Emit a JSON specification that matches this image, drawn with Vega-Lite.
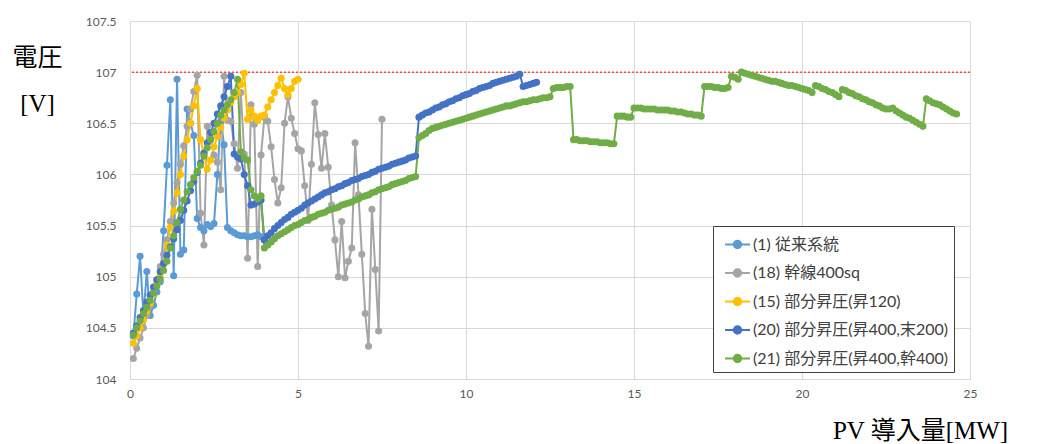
{
"$schema": "https://vega.github.io/schema/vega-lite/v6.json",
"width": 840, "height": 358,
"autosize": {"type": "none"},
"padding": {"left": 130, "top": 21, "right": 68, "bottom": 65},
"background": "white",
"config": {"font": "Lato, Noto Sans CJK JP", "view": {"stroke": null}},
"datasets": {
"main": [
{"s":"(1) 従来系統","x":0.1,"y":104.42},{"s":"(1) 従来系統","x":0.2,"y":104.83},{"s":"(1) 従来系統","x":0.3,"y":105.2},{"s":"(1) 従来系統","x":0.4,"y":104.62},{"s":"(1) 従来系統","x":0.5,"y":105.05},{"s":"(1) 従来系統","x":0.6,"y":104.62},{"s":"(1) 従来系統","x":0.7,"y":104.72},{"s":"(1) 従来系統","x":0.8,"y":104.85},{"s":"(1) 従来系統","x":0.9,"y":104.95},{"s":"(1) 従来系統","x":1.0,"y":105.45},
{"s":"(1) 従来系統","x":1.1,"y":106.09},{"s":"(1) 従来系統","x":1.2,"y":106.73},{"s":"(1) 従来系統","x":1.3,"y":105.01},{"s":"(1) 従来系統","x":1.4,"y":106.93},{"s":"(1) 従来系統","x":1.5,"y":105.22},{"s":"(1) 従来系統","x":1.6,"y":105.26},{"s":"(1) 従来系統","x":1.7,"y":106.64},{"s":"(1) 従来系統","x":1.8,"y":106.5},{"s":"(1) 従来系統","x":1.9,"y":106.38},{"s":"(1) 従来系統","x":2.0,"y":105.57},
{"s":"(1) 従来系統","x":2.1,"y":105.48},{"s":"(1) 従来系統","x":2.2,"y":105.45},{"s":"(1) 従来系統","x":2.3,"y":105.51},{"s":"(1) 従来系統","x":2.4,"y":105.49},{"s":"(1) 従来系統","x":2.5,"y":105.52},{"s":"(1) 従来系統","x":2.6,"y":106.0},{"s":"(1) 従来系統","x":2.7,"y":106.52},{"s":"(1) 従来系統","x":2.8,"y":106.29},{"s":"(1) 従来系統","x":2.9,"y":105.48},{"s":"(1) 従来系統","x":3.0,"y":105.45},
{"s":"(1) 従来系統","x":3.1,"y":105.43},{"s":"(1) 従来系統","x":3.2,"y":105.41},{"s":"(1) 従来系統","x":3.3,"y":105.4},{"s":"(1) 従来系統","x":3.4,"y":105.4},{"s":"(1) 従来系統","x":3.5,"y":105.39},{"s":"(1) 従来系統","x":3.6,"y":105.39},{"s":"(1) 従来系統","x":3.7,"y":105.4},{"s":"(1) 従来系統","x":3.8,"y":105.41},{"s":"(1) 従来系統","x":3.9,"y":105.39},{"s":"(1) 従来系統","x":4.0,"y":105.36},

{"s":"(18) 幹線400sq","x":0.1,"y":104.2},{"s":"(18) 幹線400sq","x":0.2,"y":104.3},{"s":"(18) 幹線400sq","x":0.3,"y":104.4},{"s":"(18) 幹線400sq","x":0.4,"y":104.5},{"s":"(18) 幹線400sq","x":0.5,"y":104.62},{"s":"(18) 幹線400sq","x":0.6,"y":104.72},{"s":"(18) 幹線400sq","x":0.7,"y":104.85},{"s":"(18) 幹線400sq","x":0.8,"y":104.97},{"s":"(18) 幹線400sq","x":0.9,"y":105.1},{"s":"(18) 幹線400sq","x":1.0,"y":105.22},
{"s":"(18) 幹線400sq","x":1.1,"y":105.36},{"s":"(18) 幹線400sq","x":1.2,"y":105.54},{"s":"(18) 幹線400sq","x":1.3,"y":105.72},{"s":"(18) 幹線400sq","x":1.4,"y":105.92},{"s":"(18) 幹線400sq","x":1.5,"y":106.1},{"s":"(18) 幹線400sq","x":1.6,"y":106.28},{"s":"(18) 幹線400sq","x":1.7,"y":106.47},{"s":"(18) 幹線400sq","x":1.8,"y":106.64},{"s":"(18) 幹線400sq","x":1.9,"y":106.81},{"s":"(18) 幹線400sq","x":2.0,"y":106.97},
{"s":"(18) 幹線400sq","x":2.1,"y":105.62},{"s":"(18) 幹線400sq","x":2.2,"y":105.31},{"s":"(18) 幹線400sq","x":2.3,"y":106.47},{"s":"(18) 幹線400sq","x":2.4,"y":106.35},{"s":"(18) 幹線400sq","x":2.5,"y":106.19},{"s":"(18) 幹線400sq","x":2.6,"y":106.12},{"s":"(18) 幹線400sq","x":2.7,"y":105.85},{"s":"(18) 幹線400sq","x":2.8,"y":106.96},{"s":"(18) 幹線400sq","x":2.9,"y":106.53},{"s":"(18) 幹線400sq","x":3.0,"y":106.52},
{"s":"(18) 幹線400sq","x":3.1,"y":106.3},{"s":"(18) 幹線400sq","x":3.2,"y":106.06},{"s":"(18) 幹線400sq","x":3.3,"y":106.8},{"s":"(18) 幹線400sq","x":3.4,"y":106.2},{"s":"(18) 幹線400sq","x":3.5,"y":105.18},{"s":"(18) 幹線400sq","x":3.6,"y":106.68},{"s":"(18) 幹線400sq","x":3.7,"y":106.49},{"s":"(18) 幹線400sq","x":3.8,"y":105.1},{"s":"(18) 幹線400sq","x":3.9,"y":106.19},{"s":"(18) 幹線400sq","x":4.0,"y":106.56},
{"s":"(18) 幹線400sq","x":4.1,"y":106.52},{"s":"(18) 幹線400sq","x":4.2,"y":106.27},{"s":"(18) 幹線400sq","x":4.3,"y":105.95},{"s":"(18) 幹線400sq","x":4.4,"y":105.72},{"s":"(18) 幹線400sq","x":4.5,"y":105.87},{"s":"(18) 幹線400sq","x":4.6,"y":106.5},{"s":"(18) 幹線400sq","x":4.7,"y":106.76},{"s":"(18) 幹線400sq","x":4.8,"y":106.55},{"s":"(18) 幹線400sq","x":4.9,"y":106.4},{"s":"(18) 幹線400sq","x":5.0,"y":106.25},
{"s":"(18) 幹線400sq","x":5.1,"y":106.23},{"s":"(18) 幹線400sq","x":5.2,"y":105.89},{"s":"(18) 幹線400sq","x":5.3,"y":105.55},{"s":"(18) 幹線400sq","x":5.4,"y":106.1},{"s":"(18) 幹線400sq","x":5.5,"y":106.7},{"s":"(18) 幹線400sq","x":5.6,"y":106.39},{"s":"(18) 幹線400sq","x":5.7,"y":106.06},{"s":"(18) 幹線400sq","x":5.8,"y":106.4},{"s":"(18) 幹線400sq","x":5.9,"y":106.07},{"s":"(18) 幹線400sq","x":6.0,"y":105.7},
{"s":"(18) 幹線400sq","x":6.1,"y":105.36},{"s":"(18) 幹線400sq","x":6.2,"y":105.0},{"s":"(18) 幹線400sq","x":6.3,"y":105.54},{"s":"(18) 幹線400sq","x":6.4,"y":104.99},{"s":"(18) 幹線400sq","x":6.5,"y":105.15},{"s":"(18) 幹線400sq","x":6.6,"y":105.28},{"s":"(18) 幹線400sq","x":6.7,"y":106.31},{"s":"(18) 幹線400sq","x":6.8,"y":105.8},{"s":"(18) 幹線400sq","x":6.9,"y":105.22},{"s":"(18) 幹線400sq","x":7.0,"y":104.64},
{"s":"(18) 幹線400sq","x":7.1,"y":104.32},{"s":"(18) 幹線400sq","x":7.2,"y":105.66},{"s":"(18) 幹線400sq","x":7.3,"y":105.07},{"s":"(18) 幹線400sq","x":7.4,"y":104.47},{"s":"(18) 幹線400sq","x":7.5,"y":106.54},

{"s":"(15) 部分昇圧(昇120)","x":0.1,"y":104.35},{"s":"(15) 部分昇圧(昇120)","x":0.2,"y":104.42},{"s":"(15) 部分昇圧(昇120)","x":0.3,"y":104.5},{"s":"(15) 部分昇圧(昇120)","x":0.4,"y":104.58},{"s":"(15) 部分昇圧(昇120)","x":0.5,"y":104.66},{"s":"(15) 部分昇圧(昇120)","x":0.6,"y":104.74},{"s":"(15) 部分昇圧(昇120)","x":0.7,"y":104.83},{"s":"(15) 部分昇圧(昇120)","x":0.8,"y":104.93},{"s":"(15) 部分昇圧(昇120)","x":0.9,"y":105.03},{"s":"(15) 部分昇圧(昇120)","x":1.0,"y":105.13},
{"s":"(15) 部分昇圧(昇120)","x":1.1,"y":105.31},{"s":"(15) 部分昇圧(昇120)","x":1.2,"y":105.48},{"s":"(15) 部分昇圧(昇120)","x":1.3,"y":105.64},{"s":"(15) 部分昇圧(昇120)","x":1.4,"y":105.82},{"s":"(15) 部分昇圧(昇120)","x":1.5,"y":106.0},{"s":"(15) 部分昇圧(昇120)","x":1.6,"y":106.18},{"s":"(15) 部分昇圧(昇120)","x":1.7,"y":106.34},{"s":"(15) 部分昇圧(昇120)","x":1.8,"y":106.5},{"s":"(15) 部分昇圧(昇120)","x":1.9,"y":106.67},{"s":"(15) 部分昇圧(昇120)","x":2.0,"y":106.84},
{"s":"(15) 部分昇圧(昇120)","x":2.1,"y":106.34},{"s":"(15) 部分昇圧(昇120)","x":2.2,"y":106.2},{"s":"(15) 部分昇圧(昇120)","x":2.3,"y":106.05},{"s":"(15) 部分昇圧(昇120)","x":2.4,"y":106.14},{"s":"(15) 部分昇圧(昇120)","x":2.5,"y":106.27},{"s":"(15) 部分昇圧(昇120)","x":2.6,"y":106.37},{"s":"(15) 部分昇圧(昇120)","x":2.7,"y":106.46},{"s":"(15) 部分昇圧(昇120)","x":2.8,"y":106.55},{"s":"(15) 部分昇圧(昇120)","x":2.9,"y":106.63},{"s":"(15) 部分昇圧(昇120)","x":3.0,"y":106.7},
{"s":"(15) 部分昇圧(昇120)","x":3.1,"y":106.76},{"s":"(15) 部分昇圧(昇120)","x":3.2,"y":106.8},{"s":"(15) 部分昇圧(昇120)","x":3.3,"y":106.88},{"s":"(15) 部分昇圧(昇120)","x":3.4,"y":106.99},{"s":"(15) 部分昇圧(昇120)","x":3.5,"y":106.54},{"s":"(15) 部分昇圧(昇120)","x":3.6,"y":106.63},{"s":"(15) 部分昇圧(昇120)","x":3.7,"y":106.57},{"s":"(15) 部分昇圧(昇120)","x":3.8,"y":106.53},{"s":"(15) 部分昇圧(昇120)","x":3.9,"y":106.57},{"s":"(15) 部分昇圧(昇120)","x":4.0,"y":106.58},
{"s":"(15) 部分昇圧(昇120)","x":4.1,"y":106.66},{"s":"(15) 部分昇圧(昇120)","x":4.2,"y":106.73},{"s":"(15) 部分昇圧(昇120)","x":4.3,"y":106.8},{"s":"(15) 部分昇圧(昇120)","x":4.4,"y":106.87},{"s":"(15) 部分昇圧(昇120)","x":4.5,"y":106.94},{"s":"(15) 部分昇圧(昇120)","x":4.6,"y":106.84},{"s":"(15) 部分昇圧(昇120)","x":4.7,"y":106.78},{"s":"(15) 部分昇圧(昇120)","x":4.8,"y":106.84},{"s":"(15) 部分昇圧(昇120)","x":4.9,"y":106.91},{"s":"(15) 部分昇圧(昇120)","x":5.0,"y":106.93},

{"s":"(20) 部分昇圧(昇400,末200)","x":0.1,"y":104.45},{"s":"(20) 部分昇圧(昇400,末200)","x":0.2,"y":104.52},{"s":"(20) 部分昇圧(昇400,末200)","x":0.3,"y":104.6},{"s":"(20) 部分昇圧(昇400,末200)","x":0.4,"y":104.67},{"s":"(20) 部分昇圧(昇400,末200)","x":0.5,"y":104.75},{"s":"(20) 部分昇圧(昇400,末200)","x":0.6,"y":104.82},{"s":"(20) 部分昇圧(昇400,末200)","x":0.7,"y":104.9},{"s":"(20) 部分昇圧(昇400,末200)","x":0.8,"y":104.97},{"s":"(20) 部分昇圧(昇400,末200)","x":0.9,"y":105.05},{"s":"(20) 部分昇圧(昇400,末200)","x":1.0,"y":105.13},
{"s":"(20) 部分昇圧(昇400,末200)","x":1.1,"y":105.21},{"s":"(20) 部分昇圧(昇400,末200)","x":1.2,"y":105.29},{"s":"(20) 部分昇圧(昇400,末200)","x":1.3,"y":105.37},{"s":"(20) 部分昇圧(昇400,末200)","x":1.4,"y":105.46},{"s":"(20) 部分昇圧(昇400,末200)","x":1.5,"y":105.55},{"s":"(20) 部分昇圧(昇400,末200)","x":1.6,"y":105.65},{"s":"(20) 部分昇圧(昇400,末200)","x":1.7,"y":105.74},{"s":"(20) 部分昇圧(昇400,末200)","x":1.8,"y":105.84},{"s":"(20) 部分昇圧(昇400,末200)","x":1.9,"y":105.93},{"s":"(20) 部分昇圧(昇400,末200)","x":2.0,"y":106.02},
{"s":"(20) 部分昇圧(昇400,末200)","x":2.1,"y":106.11},{"s":"(20) 部分昇圧(昇400,末200)","x":2.2,"y":106.21},{"s":"(20) 部分昇圧(昇400,末200)","x":2.3,"y":106.31},{"s":"(20) 部分昇圧(昇400,末200)","x":2.4,"y":106.41},{"s":"(20) 部分昇圧(昇400,末200)","x":2.5,"y":106.5},{"s":"(20) 部分昇圧(昇400,末200)","x":2.6,"y":106.59},{"s":"(20) 部分昇圧(昇400,末200)","x":2.7,"y":106.67},{"s":"(20) 部分昇圧(昇400,末200)","x":2.8,"y":106.76},{"s":"(20) 部分昇圧(昇400,末200)","x":2.9,"y":106.86},{"s":"(20) 部分昇圧(昇400,末200)","x":3.0,"y":106.96},
{"s":"(20) 部分昇圧(昇400,末200)","x":3.1,"y":106.2},{"s":"(20) 部分昇圧(昇400,末200)","x":3.2,"y":106.17},{"s":"(20) 部分昇圧(昇400,末200)","x":3.3,"y":106.15},{"s":"(20) 部分昇圧(昇400,末200)","x":3.4,"y":106.0},{"s":"(20) 部分昇圧(昇400,末200)","x":3.5,"y":105.89},{"s":"(20) 部分昇圧(昇400,末200)","x":3.6,"y":105.7},{"s":"(20) 部分昇圧(昇400,末200)","x":3.7,"y":105.71},{"s":"(20) 部分昇圧(昇400,末200)","x":3.8,"y":105.73},{"s":"(20) 部分昇圧(昇400,末200)","x":3.9,"y":105.75},{"s":"(20) 部分昇圧(昇400,末200)","x":4.0,"y":105.36},
{"s":"(20) 部分昇圧(昇400,末200)","x":4.1,"y":105.4},{"s":"(20) 部分昇圧(昇400,末200)","x":4.2,"y":105.43},{"s":"(20) 部分昇圧(昇400,末200)","x":4.3,"y":105.47},{"s":"(20) 部分昇圧(昇400,末200)","x":4.4,"y":105.5},{"s":"(20) 部分昇圧(昇400,末200)","x":4.5,"y":105.53},{"s":"(20) 部分昇圧(昇400,末200)","x":4.6,"y":105.56},{"s":"(20) 部分昇圧(昇400,末200)","x":4.7,"y":105.58},{"s":"(20) 部分昇圧(昇400,末200)","x":4.8,"y":105.61},{"s":"(20) 部分昇圧(昇400,末200)","x":4.9,"y":105.63},{"s":"(20) 部分昇圧(昇400,末200)","x":5.0,"y":105.65},
{"s":"(20) 部分昇圧(昇400,末200)","x":5.1,"y":105.67},{"s":"(20) 部分昇圧(昇400,末200)","x":5.2,"y":105.7},{"s":"(20) 部分昇圧(昇400,末200)","x":5.3,"y":105.72},{"s":"(20) 部分昇圧(昇400,末200)","x":5.4,"y":105.74},{"s":"(20) 部分昇圧(昇400,末200)","x":5.5,"y":105.76},{"s":"(20) 部分昇圧(昇400,末200)","x":5.6,"y":105.78},{"s":"(20) 部分昇圧(昇400,末200)","x":5.7,"y":105.8},{"s":"(20) 部分昇圧(昇400,末200)","x":5.8,"y":105.82},{"s":"(20) 部分昇圧(昇400,末200)","x":5.9,"y":105.83},{"s":"(20) 部分昇圧(昇400,末200)","x":6.0,"y":105.85},
{"s":"(20) 部分昇圧(昇400,末200)","x":6.1,"y":105.86},{"s":"(20) 部分昇圧(昇400,末200)","x":6.2,"y":105.88},{"s":"(20) 部分昇圧(昇400,末200)","x":6.3,"y":105.89},{"s":"(20) 部分昇圧(昇400,末200)","x":6.4,"y":105.91},{"s":"(20) 部分昇圧(昇400,末200)","x":6.5,"y":105.92},{"s":"(20) 部分昇圧(昇400,末200)","x":6.6,"y":105.94},{"s":"(20) 部分昇圧(昇400,末200)","x":6.7,"y":105.95},{"s":"(20) 部分昇圧(昇400,末200)","x":6.8,"y":105.96},{"s":"(20) 部分昇圧(昇400,末200)","x":6.9,"y":105.98},{"s":"(20) 部分昇圧(昇400,末200)","x":7.0,"y":105.99},
{"s":"(20) 部分昇圧(昇400,末200)","x":7.1,"y":106.0},{"s":"(20) 部分昇圧(昇400,末200)","x":7.2,"y":106.02},{"s":"(20) 部分昇圧(昇400,末200)","x":7.3,"y":106.03},{"s":"(20) 部分昇圧(昇400,末200)","x":7.4,"y":106.05},{"s":"(20) 部分昇圧(昇400,末200)","x":7.5,"y":106.06},{"s":"(20) 部分昇圧(昇400,末200)","x":7.6,"y":106.07},{"s":"(20) 部分昇圧(昇400,末200)","x":7.7,"y":106.08},{"s":"(20) 部分昇圧(昇400,末200)","x":7.8,"y":106.1},{"s":"(20) 部分昇圧(昇400,末200)","x":7.9,"y":106.11},{"s":"(20) 部分昇圧(昇400,末200)","x":8.0,"y":106.12},
{"s":"(20) 部分昇圧(昇400,末200)","x":8.1,"y":106.13},{"s":"(20) 部分昇圧(昇400,末200)","x":8.2,"y":106.14},{"s":"(20) 部分昇圧(昇400,末200)","x":8.3,"y":106.16},{"s":"(20) 部分昇圧(昇400,末200)","x":8.4,"y":106.17},{"s":"(20) 部分昇圧(昇400,末200)","x":8.5,"y":106.18},{"s":"(20) 部分昇圧(昇400,末200)","x":8.6,"y":106.56},{"s":"(20) 部分昇圧(昇400,末200)","x":8.7,"y":106.58},{"s":"(20) 部分昇圧(昇400,末200)","x":8.8,"y":106.6},{"s":"(20) 部分昇圧(昇400,末200)","x":8.9,"y":106.61},{"s":"(20) 部分昇圧(昇400,末200)","x":9.0,"y":106.63},
{"s":"(20) 部分昇圧(昇400,末200)","x":9.1,"y":106.65},{"s":"(20) 部分昇圧(昇400,末200)","x":9.2,"y":106.66},{"s":"(20) 部分昇圧(昇400,末200)","x":9.3,"y":106.68},{"s":"(20) 部分昇圧(昇400,末200)","x":9.4,"y":106.69},{"s":"(20) 部分昇圧(昇400,末200)","x":9.5,"y":106.71},{"s":"(20) 部分昇圧(昇400,末200)","x":9.6,"y":106.72},{"s":"(20) 部分昇圧(昇400,末200)","x":9.7,"y":106.74},{"s":"(20) 部分昇圧(昇400,末200)","x":9.8,"y":106.75},{"s":"(20) 部分昇圧(昇400,末200)","x":9.9,"y":106.77},{"s":"(20) 部分昇圧(昇400,末200)","x":10.0,"y":106.78},
{"s":"(20) 部分昇圧(昇400,末200)","x":10.1,"y":106.79},{"s":"(20) 部分昇圧(昇400,末200)","x":10.2,"y":106.81},{"s":"(20) 部分昇圧(昇400,末200)","x":10.3,"y":106.82},{"s":"(20) 部分昇圧(昇400,末200)","x":10.4,"y":106.84},{"s":"(20) 部分昇圧(昇400,末200)","x":10.5,"y":106.85},{"s":"(20) 部分昇圧(昇400,末200)","x":10.6,"y":106.86},{"s":"(20) 部分昇圧(昇400,末200)","x":10.7,"y":106.87},{"s":"(20) 部分昇圧(昇400,末200)","x":10.8,"y":106.89},{"s":"(20) 部分昇圧(昇400,末200)","x":10.9,"y":106.9},{"s":"(20) 部分昇圧(昇400,末200)","x":11.0,"y":106.91},
{"s":"(20) 部分昇圧(昇400,末200)","x":11.1,"y":106.92},{"s":"(20) 部分昇圧(昇400,末200)","x":11.2,"y":106.93},{"s":"(20) 部分昇圧(昇400,末200)","x":11.3,"y":106.94},{"s":"(20) 部分昇圧(昇400,末200)","x":11.4,"y":106.95},{"s":"(20) 部分昇圧(昇400,末200)","x":11.5,"y":106.96},{"s":"(20) 部分昇圧(昇400,末200)","x":11.6,"y":106.98},{"s":"(20) 部分昇圧(昇400,末200)","x":11.7,"y":106.86},{"s":"(20) 部分昇圧(昇400,末200)","x":11.8,"y":106.87},{"s":"(20) 部分昇圧(昇400,末200)","x":11.9,"y":106.88},{"s":"(20) 部分昇圧(昇400,末200)","x":12.0,"y":106.89},
{"s":"(20) 部分昇圧(昇400,末200)","x":12.1,"y":106.9},

{"s":"(21) 部分昇圧(昇400,幹400)","x":0.1,"y":104.43},{"s":"(21) 部分昇圧(昇400,幹400)","x":0.2,"y":104.5},{"s":"(21) 部分昇圧(昇400,幹400)","x":0.3,"y":104.57},{"s":"(21) 部分昇圧(昇400,幹400)","x":0.4,"y":104.64},{"s":"(21) 部分昇圧(昇400,幹400)","x":0.5,"y":104.7},{"s":"(21) 部分昇圧(昇400,幹400)","x":0.6,"y":104.77},{"s":"(21) 部分昇圧(昇400,幹400)","x":0.7,"y":104.84},{"s":"(21) 部分昇圧(昇400,幹400)","x":0.8,"y":104.91},{"s":"(21) 部分昇圧(昇400,幹400)","x":0.9,"y":104.98},{"s":"(21) 部分昇圧(昇400,幹400)","x":1.0,"y":105.06},
{"s":"(21) 部分昇圧(昇400,幹400)","x":1.1,"y":105.15},{"s":"(21) 部分昇圧(昇400,幹400)","x":1.2,"y":105.28},{"s":"(21) 部分昇圧(昇400,幹400)","x":1.3,"y":105.4},{"s":"(21) 部分昇圧(昇400,幹400)","x":1.4,"y":105.53},{"s":"(21) 部分昇圧(昇400,幹400)","x":1.5,"y":105.66},{"s":"(21) 部分昇圧(昇400,幹400)","x":1.6,"y":105.75},{"s":"(21) 部分昇圧(昇400,幹400)","x":1.7,"y":105.83},{"s":"(21) 部分昇圧(昇400,幹400)","x":1.8,"y":105.9},{"s":"(21) 部分昇圧(昇400,幹400)","x":1.9,"y":105.97},{"s":"(21) 部分昇圧(昇400,幹400)","x":2.0,"y":106.03},
{"s":"(21) 部分昇圧(昇400,幹400)","x":2.1,"y":106.09},{"s":"(21) 部分昇圧(昇400,幹400)","x":2.2,"y":106.18},{"s":"(21) 部分昇圧(昇400,幹400)","x":2.3,"y":106.26},{"s":"(21) 部分昇圧(昇400,幹400)","x":2.4,"y":106.34},{"s":"(21) 部分昇圧(昇400,幹400)","x":2.5,"y":106.42},{"s":"(21) 部分昇圧(昇400,幹400)","x":2.6,"y":106.5},{"s":"(21) 部分昇圧(昇400,幹400)","x":2.7,"y":106.58},{"s":"(21) 部分昇圧(昇400,幹400)","x":2.8,"y":106.63},{"s":"(21) 部分昇圧(昇400,幹400)","x":2.9,"y":106.68},{"s":"(21) 部分昇圧(昇400,幹400)","x":3.0,"y":106.73},
{"s":"(21) 部分昇圧(昇400,幹400)","x":3.1,"y":106.8},{"s":"(21) 部分昇圧(昇400,幹400)","x":3.2,"y":106.93},{"s":"(21) 部分昇圧(昇400,幹400)","x":3.3,"y":106.22},{"s":"(21) 部分昇圧(昇400,幹400)","x":3.4,"y":106.16},{"s":"(21) 部分昇圧(昇400,幹400)","x":3.5,"y":106.14},{"s":"(21) 部分昇圧(昇400,幹400)","x":3.6,"y":105.85},{"s":"(21) 部分昇圧(昇400,幹400)","x":3.7,"y":105.79},{"s":"(21) 部分昇圧(昇400,幹400)","x":3.8,"y":105.76},{"s":"(21) 部分昇圧(昇400,幹400)","x":3.9,"y":105.79},{"s":"(21) 部分昇圧(昇400,幹400)","x":4.0,"y":105.28},
{"s":"(21) 部分昇圧(昇400,幹400)","x":4.1,"y":105.31},{"s":"(21) 部分昇圧(昇400,幹400)","x":4.2,"y":105.34},{"s":"(21) 部分昇圧(昇400,幹400)","x":4.3,"y":105.37},{"s":"(21) 部分昇圧(昇400,幹400)","x":4.4,"y":105.4},{"s":"(21) 部分昇圧(昇400,幹400)","x":4.5,"y":105.42},{"s":"(21) 部分昇圧(昇400,幹400)","x":4.6,"y":105.44},{"s":"(21) 部分昇圧(昇400,幹400)","x":4.7,"y":105.46},{"s":"(21) 部分昇圧(昇400,幹400)","x":4.8,"y":105.48},{"s":"(21) 部分昇圧(昇400,幹400)","x":4.9,"y":105.5},{"s":"(21) 部分昇圧(昇400,幹400)","x":5.0,"y":105.51},
{"s":"(21) 部分昇圧(昇400,幹400)","x":5.1,"y":105.53},{"s":"(21) 部分昇圧(昇400,幹400)","x":5.2,"y":105.55},{"s":"(21) 部分昇圧(昇400,幹400)","x":5.3,"y":105.56},{"s":"(21) 部分昇圧(昇400,幹400)","x":5.4,"y":105.58},{"s":"(21) 部分昇圧(昇400,幹400)","x":5.5,"y":105.59},{"s":"(21) 部分昇圧(昇400,幹400)","x":5.6,"y":105.61},{"s":"(21) 部分昇圧(昇400,幹400)","x":5.7,"y":105.62},{"s":"(21) 部分昇圧(昇400,幹400)","x":5.8,"y":105.63},{"s":"(21) 部分昇圧(昇400,幹400)","x":5.9,"y":105.65},{"s":"(21) 部分昇圧(昇400,幹400)","x":6.0,"y":105.66},
{"s":"(21) 部分昇圧(昇400,幹400)","x":6.1,"y":105.67},{"s":"(21) 部分昇圧(昇400,幹400)","x":6.2,"y":105.68},{"s":"(21) 部分昇圧(昇400,幹400)","x":6.3,"y":105.7},{"s":"(21) 部分昇圧(昇400,幹400)","x":6.4,"y":105.71},{"s":"(21) 部分昇圧(昇400,幹400)","x":6.5,"y":105.72},{"s":"(21) 部分昇圧(昇400,幹400)","x":6.6,"y":105.73},{"s":"(21) 部分昇圧(昇400,幹400)","x":6.7,"y":105.75},{"s":"(21) 部分昇圧(昇400,幹400)","x":6.8,"y":105.76},{"s":"(21) 部分昇圧(昇400,幹400)","x":6.9,"y":105.78},{"s":"(21) 部分昇圧(昇400,幹400)","x":7.0,"y":105.79},
{"s":"(21) 部分昇圧(昇400,幹400)","x":7.1,"y":105.8},{"s":"(21) 部分昇圧(昇400,幹400)","x":7.2,"y":105.82},{"s":"(21) 部分昇圧(昇400,幹400)","x":7.3,"y":105.83},{"s":"(21) 部分昇圧(昇400,幹400)","x":7.4,"y":105.85},{"s":"(21) 部分昇圧(昇400,幹400)","x":7.5,"y":105.86},{"s":"(21) 部分昇圧(昇400,幹400)","x":7.6,"y":105.87},{"s":"(21) 部分昇圧(昇400,幹400)","x":7.7,"y":105.88},{"s":"(21) 部分昇圧(昇400,幹400)","x":7.8,"y":105.9},{"s":"(21) 部分昇圧(昇400,幹400)","x":7.9,"y":105.91},{"s":"(21) 部分昇圧(昇400,幹400)","x":8.0,"y":105.92},
{"s":"(21) 部分昇圧(昇400,幹400)","x":8.1,"y":105.93},{"s":"(21) 部分昇圧(昇400,幹400)","x":8.2,"y":105.94},{"s":"(21) 部分昇圧(昇400,幹400)","x":8.3,"y":105.96},{"s":"(21) 部分昇圧(昇400,幹400)","x":8.4,"y":105.97},{"s":"(21) 部分昇圧(昇400,幹400)","x":8.5,"y":105.98},{"s":"(21) 部分昇圧(昇400,幹400)","x":8.6,"y":106.36},{"s":"(21) 部分昇圧(昇400,幹400)","x":8.7,"y":106.38},{"s":"(21) 部分昇圧(昇400,幹400)","x":8.8,"y":106.4},{"s":"(21) 部分昇圧(昇400,幹400)","x":8.9,"y":106.43},{"s":"(21) 部分昇圧(昇400,幹400)","x":9.0,"y":106.45},
{"s":"(21) 部分昇圧(昇400,幹400)","x":9.1,"y":106.46},{"s":"(21) 部分昇圧(昇400,幹400)","x":9.2,"y":106.47},{"s":"(21) 部分昇圧(昇400,幹400)","x":9.3,"y":106.48},{"s":"(21) 部分昇圧(昇400,幹400)","x":9.4,"y":106.49},{"s":"(21) 部分昇圧(昇400,幹400)","x":9.5,"y":106.5},{"s":"(21) 部分昇圧(昇400,幹400)","x":9.6,"y":106.51},{"s":"(21) 部分昇圧(昇400,幹400)","x":9.7,"y":106.52},{"s":"(21) 部分昇圧(昇400,幹400)","x":9.8,"y":106.53},{"s":"(21) 部分昇圧(昇400,幹400)","x":9.9,"y":106.54},{"s":"(21) 部分昇圧(昇400,幹400)","x":10.0,"y":106.55},
{"s":"(21) 部分昇圧(昇400,幹400)","x":10.1,"y":106.56},{"s":"(21) 部分昇圧(昇400,幹400)","x":10.2,"y":106.57},{"s":"(21) 部分昇圧(昇400,幹400)","x":10.3,"y":106.58},{"s":"(21) 部分昇圧(昇400,幹400)","x":10.4,"y":106.59},{"s":"(21) 部分昇圧(昇400,幹400)","x":10.5,"y":106.6},{"s":"(21) 部分昇圧(昇400,幹400)","x":10.6,"y":106.61},{"s":"(21) 部分昇圧(昇400,幹400)","x":10.7,"y":106.62},{"s":"(21) 部分昇圧(昇400,幹400)","x":10.8,"y":106.63},{"s":"(21) 部分昇圧(昇400,幹400)","x":10.9,"y":106.64},{"s":"(21) 部分昇圧(昇400,幹400)","x":11.0,"y":106.65},
{"s":"(21) 部分昇圧(昇400,幹400)","x":11.1,"y":106.66},{"s":"(21) 部分昇圧(昇400,幹400)","x":11.2,"y":106.67},{"s":"(21) 部分昇圧(昇400,幹400)","x":11.3,"y":106.67},{"s":"(21) 部分昇圧(昇400,幹400)","x":11.4,"y":106.68},{"s":"(21) 部分昇圧(昇400,幹400)","x":11.5,"y":106.69},{"s":"(21) 部分昇圧(昇400,幹400)","x":11.6,"y":106.7},{"s":"(21) 部分昇圧(昇400,幹400)","x":11.7,"y":106.71},{"s":"(21) 部分昇圧(昇400,幹400)","x":11.8,"y":106.71},{"s":"(21) 部分昇圧(昇400,幹400)","x":11.9,"y":106.72},{"s":"(21) 部分昇圧(昇400,幹400)","x":12.0,"y":106.73},
{"s":"(21) 部分昇圧(昇400,幹400)","x":12.1,"y":106.73},{"s":"(21) 部分昇圧(昇400,幹400)","x":12.2,"y":106.74},{"s":"(21) 部分昇圧(昇400,幹400)","x":12.3,"y":106.75},{"s":"(21) 部分昇圧(昇400,幹400)","x":12.4,"y":106.75},{"s":"(21) 部分昇圧(昇400,幹400)","x":12.5,"y":106.76},{"s":"(21) 部分昇圧(昇400,幹400)","x":12.6,"y":106.84},{"s":"(21) 部分昇圧(昇400,幹400)","x":12.7,"y":106.85},{"s":"(21) 部分昇圧(昇400,幹400)","x":12.8,"y":106.85},{"s":"(21) 部分昇圧(昇400,幹400)","x":12.9,"y":106.85},{"s":"(21) 部分昇圧(昇400,幹400)","x":13.0,"y":106.86},
{"s":"(21) 部分昇圧(昇400,幹400)","x":13.1,"y":106.86},{"s":"(21) 部分昇圧(昇400,幹400)","x":13.2,"y":106.34},{"s":"(21) 部分昇圧(昇400,幹400)","x":13.3,"y":106.34},{"s":"(21) 部分昇圧(昇400,幹400)","x":13.4,"y":106.33},{"s":"(21) 部分昇圧(昇400,幹400)","x":13.5,"y":106.33},{"s":"(21) 部分昇圧(昇400,幹400)","x":13.6,"y":106.33},{"s":"(21) 部分昇圧(昇400,幹400)","x":13.7,"y":106.32},{"s":"(21) 部分昇圧(昇400,幹400)","x":13.8,"y":106.32},{"s":"(21) 部分昇圧(昇400,幹400)","x":13.9,"y":106.32},{"s":"(21) 部分昇圧(昇400,幹400)","x":14.0,"y":106.31},
{"s":"(21) 部分昇圧(昇400,幹400)","x":14.1,"y":106.31},{"s":"(21) 部分昇圧(昇400,幹400)","x":14.2,"y":106.31},{"s":"(21) 部分昇圧(昇400,幹400)","x":14.3,"y":106.3},{"s":"(21) 部分昇圧(昇400,幹400)","x":14.4,"y":106.3},{"s":"(21) 部分昇圧(昇400,幹400)","x":14.5,"y":106.57},{"s":"(21) 部分昇圧(昇400,幹400)","x":14.6,"y":106.57},{"s":"(21) 部分昇圧(昇400,幹400)","x":14.7,"y":106.57},{"s":"(21) 部分昇圧(昇400,幹400)","x":14.8,"y":106.56},{"s":"(21) 部分昇圧(昇400,幹400)","x":14.9,"y":106.56},{"s":"(21) 部分昇圧(昇400,幹400)","x":15.0,"y":106.65},
{"s":"(21) 部分昇圧(昇400,幹400)","x":15.1,"y":106.65},{"s":"(21) 部分昇圧(昇400,幹400)","x":15.2,"y":106.65},{"s":"(21) 部分昇圧(昇400,幹400)","x":15.3,"y":106.64},{"s":"(21) 部分昇圧(昇400,幹400)","x":15.4,"y":106.64},{"s":"(21) 部分昇圧(昇400,幹400)","x":15.5,"y":106.64},{"s":"(21) 部分昇圧(昇400,幹400)","x":15.6,"y":106.64},{"s":"(21) 部分昇圧(昇400,幹400)","x":15.7,"y":106.63},{"s":"(21) 部分昇圧(昇400,幹400)","x":15.8,"y":106.63},{"s":"(21) 部分昇圧(昇400,幹400)","x":15.9,"y":106.63},{"s":"(21) 部分昇圧(昇400,幹400)","x":16.0,"y":106.63},
{"s":"(21) 部分昇圧(昇400,幹400)","x":16.1,"y":106.62},{"s":"(21) 部分昇圧(昇400,幹400)","x":16.2,"y":106.62},{"s":"(21) 部分昇圧(昇400,幹400)","x":16.3,"y":106.61},{"s":"(21) 部分昇圧(昇400,幹400)","x":16.4,"y":106.61},{"s":"(21) 部分昇圧(昇400,幹400)","x":16.5,"y":106.6},{"s":"(21) 部分昇圧(昇400,幹400)","x":16.6,"y":106.59},{"s":"(21) 部分昇圧(昇400,幹400)","x":16.7,"y":106.59},{"s":"(21) 部分昇圧(昇400,幹400)","x":16.8,"y":106.58},{"s":"(21) 部分昇圧(昇400,幹400)","x":16.9,"y":106.58},{"s":"(21) 部分昇圧(昇400,幹400)","x":17.0,"y":106.57},
{"s":"(21) 部分昇圧(昇400,幹400)","x":17.1,"y":106.86},{"s":"(21) 部分昇圧(昇400,幹400)","x":17.2,"y":106.86},{"s":"(21) 部分昇圧(昇400,幹400)","x":17.3,"y":106.86},{"s":"(21) 部分昇圧(昇400,幹400)","x":17.4,"y":106.85},{"s":"(21) 部分昇圧(昇400,幹400)","x":17.5,"y":106.85},{"s":"(21) 部分昇圧(昇400,幹400)","x":17.6,"y":106.84},{"s":"(21) 部分昇圧(昇400,幹400)","x":17.7,"y":106.84},{"s":"(21) 部分昇圧(昇400,幹400)","x":17.8,"y":106.85},{"s":"(21) 部分昇圧(昇400,幹400)","x":17.9,"y":106.96},{"s":"(21) 部分昇圧(昇400,幹400)","x":18.0,"y":106.95},
{"s":"(21) 部分昇圧(昇400,幹400)","x":18.1,"y":106.93},{"s":"(21) 部分昇圧(昇400,幹400)","x":18.2,"y":107.0},{"s":"(21) 部分昇圧(昇400,幹400)","x":18.3,"y":106.99},{"s":"(21) 部分昇圧(昇400,幹400)","x":18.4,"y":106.98},{"s":"(21) 部分昇圧(昇400,幹400)","x":18.5,"y":106.97},{"s":"(21) 部分昇圧(昇400,幹400)","x":18.6,"y":106.96},{"s":"(21) 部分昇圧(昇400,幹400)","x":18.7,"y":106.95},{"s":"(21) 部分昇圧(昇400,幹400)","x":18.8,"y":106.94},{"s":"(21) 部分昇圧(昇400,幹400)","x":18.9,"y":106.93},{"s":"(21) 部分昇圧(昇400,幹400)","x":19.0,"y":106.92},
{"s":"(21) 部分昇圧(昇400,幹400)","x":19.1,"y":106.91},{"s":"(21) 部分昇圧(昇400,幹400)","x":19.2,"y":106.91},{"s":"(21) 部分昇圧(昇400,幹400)","x":19.3,"y":106.9},{"s":"(21) 部分昇圧(昇400,幹400)","x":19.4,"y":106.89},{"s":"(21) 部分昇圧(昇400,幹400)","x":19.5,"y":106.88},{"s":"(21) 部分昇圧(昇400,幹400)","x":19.6,"y":106.87},{"s":"(21) 部分昇圧(昇400,幹400)","x":19.7,"y":106.87},{"s":"(21) 部分昇圧(昇400,幹400)","x":19.8,"y":106.86},{"s":"(21) 部分昇圧(昇400,幹400)","x":19.9,"y":106.85},{"s":"(21) 部分昇圧(昇400,幹400)","x":20.0,"y":106.84},
{"s":"(21) 部分昇圧(昇400,幹400)","x":20.1,"y":106.83},{"s":"(21) 部分昇圧(昇400,幹400)","x":20.2,"y":106.82},{"s":"(21) 部分昇圧(昇400,幹400)","x":20.3,"y":106.8},{"s":"(21) 部分昇圧(昇400,幹400)","x":20.4,"y":106.87},{"s":"(21) 部分昇圧(昇400,幹400)","x":20.5,"y":106.86},{"s":"(21) 部分昇圧(昇400,幹400)","x":20.6,"y":106.84},{"s":"(21) 部分昇圧(昇400,幹400)","x":20.7,"y":106.83},{"s":"(21) 部分昇圧(昇400,幹400)","x":20.8,"y":106.81},{"s":"(21) 部分昇圧(昇400,幹400)","x":20.9,"y":106.8},{"s":"(21) 部分昇圧(昇400,幹400)","x":21.0,"y":106.78},
{"s":"(21) 部分昇圧(昇400,幹400)","x":21.1,"y":106.76},{"s":"(21) 部分昇圧(昇400,幹400)","x":21.2,"y":106.83},{"s":"(21) 部分昇圧(昇400,幹400)","x":21.3,"y":106.82},{"s":"(21) 部分昇圧(昇400,幹400)","x":21.4,"y":106.8},{"s":"(21) 部分昇圧(昇400,幹400)","x":21.5,"y":106.79},{"s":"(21) 部分昇圧(昇400,幹400)","x":21.6,"y":106.77},{"s":"(21) 部分昇圧(昇400,幹400)","x":21.7,"y":106.76},{"s":"(21) 部分昇圧(昇400,幹400)","x":21.8,"y":106.74},{"s":"(21) 部分昇圧(昇400,幹400)","x":21.9,"y":106.73},{"s":"(21) 部分昇圧(昇400,幹400)","x":22.0,"y":106.71},
{"s":"(21) 部分昇圧(昇400,幹400)","x":22.1,"y":106.7},{"s":"(21) 部分昇圧(昇400,幹400)","x":22.2,"y":106.68},{"s":"(21) 部分昇圧(昇400,幹400)","x":22.3,"y":106.67},{"s":"(21) 部分昇圧(昇400,幹400)","x":22.4,"y":106.65},{"s":"(21) 部分昇圧(昇400,幹400)","x":22.5,"y":106.64},{"s":"(21) 部分昇圧(昇400,幹400)","x":22.6,"y":106.64},{"s":"(21) 部分昇圧(昇400,幹400)","x":22.7,"y":106.65},{"s":"(21) 部分昇圧(昇400,幹400)","x":22.8,"y":106.62},{"s":"(21) 部分昇圧(昇400,幹400)","x":22.9,"y":106.6},{"s":"(21) 部分昇圧(昇400,幹400)","x":23.0,"y":106.58},
{"s":"(21) 部分昇圧(昇400,幹400)","x":23.1,"y":106.56},{"s":"(21) 部分昇圧(昇400,幹400)","x":23.2,"y":106.55},{"s":"(21) 部分昇圧(昇400,幹400)","x":23.3,"y":106.53},{"s":"(21) 部分昇圧(昇400,幹400)","x":23.4,"y":106.51},{"s":"(21) 部分昇圧(昇400,幹400)","x":23.5,"y":106.49},{"s":"(21) 部分昇圧(昇400,幹400)","x":23.6,"y":106.47},{"s":"(21) 部分昇圧(昇400,幹400)","x":23.7,"y":106.74},{"s":"(21) 部分昇圧(昇400,幹400)","x":23.8,"y":106.72},{"s":"(21) 部分昇圧(昇400,幹400)","x":23.9,"y":106.7},{"s":"(21) 部分昇圧(昇400,幹400)","x":24.0,"y":106.69},
{"s":"(21) 部分昇圧(昇400,幹400)","x":24.1,"y":106.68},{"s":"(21) 部分昇圧(昇400,幹400)","x":24.2,"y":106.66},{"s":"(21) 部分昇圧(昇400,幹400)","x":24.3,"y":106.64},{"s":"(21) 部分昇圧(昇400,幹400)","x":24.4,"y":106.62},{"s":"(21) 部分昇圧(昇400,幹400)","x":24.5,"y":106.6},{"s":"(21) 部分昇圧(昇400,幹400)","x":24.6,"y":106.59}
],
"limit": [{"v": 107}]
},
"layer": [
{
"data": {"name": "limit"},
"mark": {"type": "rule", "color": "#FF0000", "strokeDash": [2, 2], "strokeWidth": 1},
"encoding": {"y": {"field": "v", "type": "quantitative"}}
},
{
"data": {"name": "main"},
"mark": {"type": "line", "strokeWidth": 2, "point": {"filled": true, "size": 50, "opacity": 1}},
"encoding": {
"x": {"field": "x", "type": "quantitative",
"scale": {"domain": [0, 25], "nice": false},
"axis": {"values": [0, 5, 10, 15, 20, 25], "format": "d", "title": "PV 導入量[MW]",
"titleFont": "Liberation Serif, Noto Sans CJK JP", "titleFontSize": 25, "titleFontWeight": "normal", "titleColor": "#000000",
"titleX": 790, "titleY": 59, "titleAlign": "center", "titleBaseline": "alphabetic", "titleAnchor": null,
"labelColor": "#595959", "labelFontSize": 12, "labelPadding": 9, "ticks": false, "labelFlush": false,
"domainColor": "#D9D9D9", "gridColor": "#D9D9D9", "grid": true}},
"y": {"field": "y", "type": "quantitative",
"scale": {"domain": [104, 107.5], "nice": false, "zero": false},
"axis": {"values": [104, 104.5, 105, 105.5, 106, 106.5, 107, 107.5], "format": "~g", "title": ["電圧", "[V]"],
"titleFont": "Liberation Serif, Noto Sans CJK JP", "titleFontSize": 25, "titleFontWeight": "normal", "titleColor": "#000000",
"titleAngle": 0, "titleX": -93, "titleY": 44, "titleAlign": "center", "titleBaseline": "alphabetic", "titleLineHeight": 46, "titleAnchor": null,
"labelColor": "#595959", "labelFontSize": 12, "labelPadding": 14, "ticks": false,
"domainColor": "#D9D9D9", "gridColor": "#D9D9D9", "grid": true}},
"color": {"field": "s", "type": "nominal",
"scale": {"domain": ["(1) 従来系統", "(18) 幹線400sq", "(15) 部分昇圧(昇120)", "(20) 部分昇圧(昇400,末200)", "(21) 部分昇圧(昇400,幹400)"],
"range": ["#5B9BD5", "#A5A5A5", "#FFC000", "#4472C4", "#70AD47"]},
"legend": {"orient": "none", "legendX": 583, "legendY": 205, "title": null,
"labelFontSize": 16, "labelColor": "#404040", "labelFont": "Lato, Noto Sans CJK JP", "labelOffset": 2, "labelLimit": 400,
"symbolType": "M-1,0H1M-0.3,0A0.3,0.3 0 1 1 0.3,0A0.3,0.3 0 1 1 -0.3,0Z", "symbolSize": 625, "symbolStrokeWidth": 2,
"symbolOffset": 6, "rowPadding": 6.5, "padding": 5, "strokeColor": "#404040", "fillColor": "#FFFFFF",
"encode": {"symbols": {"update": {"fill": {"scale": "color", "field": "value"}, "opacity": {"value": 1}}}}}}
}
}
]
}
